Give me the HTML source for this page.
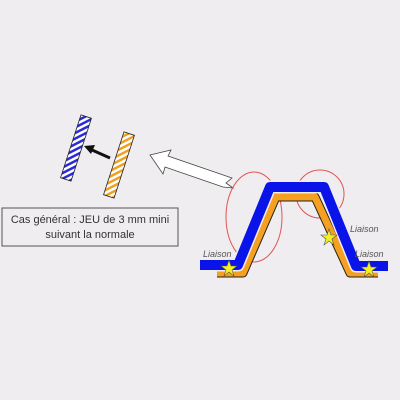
<!DOCTYPE html>
<html><head><meta charset="utf-8"><style>
body{margin:0;background:#efedef;}
svg{display:block}
text{font-family:"Liberation Sans",sans-serif;}
</style></head><body>
<svg width="400" height="400" viewBox="0 0 400 400">
<defs>
<pattern id="hb" width="5" height="5" patternUnits="userSpaceOnUse" patternTransform="rotate(45)"><rect width="5" height="5" fill="#fff"/><rect width="2.5" height="5" fill="#2a2ad8"/></pattern>
<pattern id="ho" width="5" height="5" patternUnits="userSpaceOnUse" patternTransform="rotate(45)"><rect width="5" height="5" fill="#fff"/><rect width="2.5" height="5" fill="#f0a020"/></pattern>
</defs>
<rect width="400" height="400" fill="#efedef"/>
<g transform="translate(76,148) rotate(18)"><rect x="-5.5" y="-33" width="11" height="66" fill="url(#hb)" stroke="#222" stroke-width="0.8"/></g>
<g transform="translate(119,165) rotate(18)"><rect x="-5.5" y="-33" width="11" height="66" fill="url(#ho)" stroke="#222" stroke-width="0.8"/></g>
<g><line x1="110" y1="158" x2="92" y2="150" stroke="#111" stroke-width="3"/><polygon points="84,146 95,145 91,154" fill="#111"/></g>
<polygon points="150,155 171,150 168,156 232,178 226,183 233,188 223,187 165,167 163,174" fill="#fff" stroke="#444" stroke-width="0.8"/>
<rect x="2" y="208" width="176" height="38" fill="#efedef" stroke="#555" stroke-width="1"/>
<text x="90" y="223" font-size="11" text-anchor="middle" fill="#333">Cas général : JEU de 3 mm mini</text>
<text x="90" y="238" font-size="11" text-anchor="middle" fill="#333">suivant la normale</text>
<ellipse cx="254" cy="217" rx="28" ry="45" fill="none" stroke="#e05555" stroke-width="1"/>
<circle cx="320" cy="194" r="24" fill="none" stroke="#e05555" stroke-width="1"/>
<path d="M217,273 L243,273 L276,197 L315,197 L350,273 L378,273" fill="none" stroke="#222" stroke-width="9" stroke-linejoin="round"/>
<path d="M217,273 L243,273 L276,197 L315,197 L350,273 L378,273" fill="none" stroke="#f5a020" stroke-width="7" stroke-linejoin="round"/>
<path d="M200,265 L238,265 L270,187 L324,187 L356,266 L388,266" fill="none" stroke="#efedef" stroke-width="13" stroke-linejoin="round"/>
<path d="M200,265 L238,265 L270,187 L324,187 L356,266 L388,266" fill="none" stroke="#0a14e8" stroke-width="10" stroke-linejoin="round"/>
<g fill="#f5f020" stroke="#555" stroke-width="0.6">
<polygon transform="translate(229,268)" points="0,-8 2,-2 8,-2 3,2 5,8 0,4 -5,8 -3,2 -8,-2 -2,-2"/>
<polygon transform="translate(329,237)" points="0,-8 2,-2 8,-2 3,2 5,8 0,4 -5,8 -3,2 -8,-2 -2,-2"/>
<polygon transform="translate(369,269)" points="0,-8 2,-2 8,-2 3,2 5,8 0,4 -5,8 -3,2 -8,-2 -2,-2"/>
</g>
<g font-size="9" font-style="italic" fill="#555">
<text x="203" y="257">Liaison</text>
<text x="350" y="232">Liaison</text>
<text x="355" y="257">Liaison</text>
</g>
</svg>
</body></html>
